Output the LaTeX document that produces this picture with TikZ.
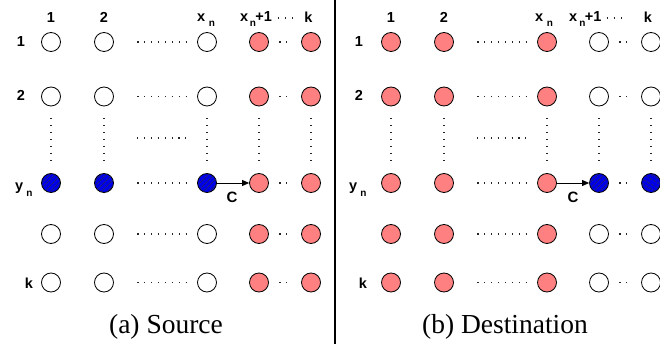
\documentclass[tikz,border=0pt]{standalone}
\usepackage{fontspec}
\setmainfont{Liberation Serif}
\setsansfont{Liberation Sans}
\usetikzlibrary{arrows.meta,patterns.meta}
\definecolor{pinkc}{RGB}{255,128,128}
\definecolor{bluec}{RGB}{0,0,230}
\newcommand\subf{\fontsize{10}{10}\selectfont}
\begin{document}
\begin{tikzpicture}[x=1pt,y=-1pt,
  dot/.style={circle,draw=black,line width=0.8pt,minimum size=19pt,inner sep=0pt},
  wh/.style={dot,fill=white},
  pk/.style={dot,fill=pinkc},
  bl/.style={dot,fill=bluec,postaction={pattern={Lines[angle=45,distance=4pt,line width=0.6pt]},pattern color=black!80}},
  blb/.style={dot,fill=bluec,postaction={pattern={Lines[angle=-30,distance=4pt,line width=0.6pt]},pattern color=black!80}},
  dts/.style={line width=1.1pt,dash pattern=on 1.1pt off 5.8pt,black!85},
  lbl/.style={font=\sffamily\bfseries\fontsize{14.5}{14.5}\selectfont,inner sep=0pt},
  captxt/.style={font=\fontsize{27.5}{30}\selectfont,inner sep=0pt,anchor=base},
  arr/.style={-{Triangle[length=7pt,width=6pt]},line width=0.8pt}
]
\useasboundingbox (0,0) rectangle (660,344);
\fill[white] (0,0) rectangle (660,344);

% ---------- circles ----------
\foreach \r/\yy in {1/42,2/96.5,3/183,4/234,5/282.5}{
  \foreach \c/\xx in {1/51,2/104,3/207,4/259,5/311}{
    \ifnum\c>3
      \node[pk] (L-\r-\c) at (\xx,\yy) {};
    \else
      \ifnum\r=3
        \node[bl] (L-\r-\c) at (\xx,\yy) {};
      \else
        \node[wh] (L-\r-\c) at (\xx,\yy) {};
      \fi
      \node[pk] (R-\r-\c) at (\xx+340,\yy) {};
    \fi
  }
}
\foreach \r/\yy in {1/42,2/96.5,4/234,5/282.5}{
  \node[wh] (R-\r-4) at (599,\yy) {};
  \node[wh] (R-\r-5) at (651,\yy) {};
}
\node[bl] (R-3-4) at (599,183) {};
\node[blb] (R-3-5) at (651,183) {};

% ---------- dotted ellipses ----------
\foreach \p in {L,R}{
  \foreach \r in {1,...,5}{
    \draw[dts,shorten <=23.5pt,shorten >=10.5pt] (\p-\r-2) -- (\p-\r-3);
    \draw[dts,shorten <=10.5pt,shorten >=8.5pt] (\p-\r-4) -- (\p-\r-5);
  }
  \foreach \c in {1,...,5}{
    \draw[dts,shorten <=12pt,shorten >=8.5pt] (\p-2-\c) -- (\p-3-\c);
  }
}
\draw[dts] (137,138) -- (188,138);
\draw[dts] (477,138) -- (528,138);
\draw[dts] (278,18) -- (292,18);
\draw[dts] (607,18) -- (621,18);

% ---------- arrows ----------
\draw[arr] (L-3-3) -- (L-3-4);
\draw[arr] (R-3-3) -- (R-3-4);
\node[lbl,font=\sffamily\bfseries\fontsize{15}{15}\selectfont] (CL) at (232,197) {C};
\node[lbl,font=\sffamily\bfseries\fontsize{15}{15}\selectfont] (CR) at (573,197) {C};

% ---------- divider ----------
\draw[line width=2pt] (335,0) -- (335,344);

% ---------- left labels ----------
\node[lbl,anchor=base] (hL1) at (51,23) {1};
\node[lbl,anchor=base] (hL2) at (104,23) {2};
\node[lbl,anchor=base west] (hL3) at (197,22) {x\hspace{3.5pt}\raisebox{-5pt}{\subf n}};
\node[lbl,anchor=base west] (hL4) at (240,22) {x\hspace{1.5pt}\raisebox{-5pt}{\subf n}\hspace{-0.5pt}+1};
\node[lbl,anchor=base] (hL5) at (308.5,23) {k};
\node[lbl] (vL1) at (21,42) {1};
\node[lbl] (vL2) at (21,95) {2};
\node[lbl,anchor=base west] (vL3) at (15,191) {y\hspace{3pt}\raisebox{-6pt}{\subf n}};
\node[lbl] (vL5) at (29,283) {k};

% ---------- right labels ----------
\node[lbl,anchor=base] (hR1) at (391,23) {1};
\node[lbl,anchor=base] (hR2) at (444,23) {2};
\node[lbl,anchor=base west] (hR3) at (535,22) {x\hspace{3.5pt}\raisebox{-5pt}{\subf n}};
\node[lbl,anchor=base west] (hR4) at (569,22) {x\hspace{2pt}\raisebox{-5pt}{\subf n}\hspace{-0.5pt}+1};
\node[lbl,anchor=base] (hR5) at (648,23) {k};
\node[lbl] (vR1) at (359,42) {1};
\node[lbl] (vR2) at (359,95) {2};
\node[lbl,anchor=base west] (vR3) at (349,191) {y\hspace{3pt}\raisebox{-6pt}{\subf n}};
\node[lbl] (vR5) at (363,283) {k};

% ---------- captions ----------
\node[captxt] (capL) at (166,333) {(a) Source};
\node[captxt] (capR) at (505,333) {(b) Destination};
\end{tikzpicture}
\end{document}
